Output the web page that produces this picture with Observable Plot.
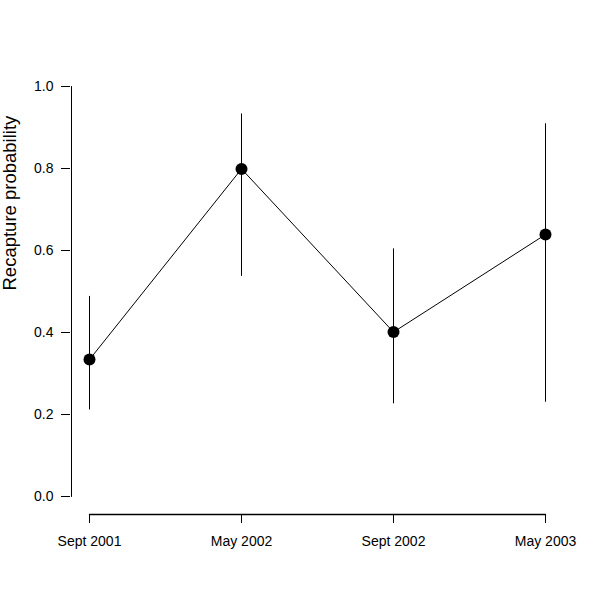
<!DOCTYPE html>
<html>
<head>
<meta charset="utf-8">
<script src="https://cdn.jsdelivr.net/npm/d3@7"></script>
<script src="https://cdn.jsdelivr.net/npm/@observablehq/plot@0.6"></script>
<style>
  html, body { margin: 0; padding: 0; background: white; }
</style>
</head>
<body>
<div id="chart"></div>
<script>
const periods = ["Sept 2001", "May 2002", "Sept 2002", "May 2003"];
const estimate = [0.334, 0.799, 0.401, 0.639];
const lower = [0.211, 0.537, 0.226, 0.230];
const upper = [0.488, 0.933, 0.604, 0.909];
const yTicks = [0, 0.2, 0.4, 0.6, 0.8, 1.0];
const yTitle = "Recapture probability";

const data = periods.map((p, i) => ({period: p, est: estimate[i], lo: lower[i], hi: upper[i]}));
const xAxisLine = [periods[0], periods[periods.length - 1]].map(p => ({p, v: yTicks[0]}));
const yAxisLine = [yTicks[0], yTicks[yTicks.length - 1]].map(v => ({p: periods[0], v}));

const chart = Plot.plot({
  width: 600,
  height: 600,
  marginLeft: 70,
  marginRight: 55,
  marginTop: 66,
  marginBottom: 86,
  style: {fontFamily: "'Liberation Sans', Arial, Helvetica, sans-serif", fontSize: "14px", color: "black", background: "white"},
  x: {type: "point", domain: periods, range: [88, 545], padding: 0},
  y: {domain: [0, 1], range: [496, 86]},
  marks: [
    Plot.axisX({tickSize: 9, tickPadding: 13, fontSize: 14, label: null, stroke: "black"}),
    Plot.axisY({ticks: yTicks, tickFormat: d3.format(".1f"), tickSize: 9, tickPadding: 8, fontSize: 14, label: null, stroke: "black"}),
    Plot.line(xAxisLine, {x: "p", y: "v", dy: 18, stroke: "black", strokeWidth: 1.3}),
    Plot.line(yAxisLine, {x: "p", y: "v", dx: -18, stroke: "black", strokeWidth: 1}),
    Plot.text([yTitle], {frameAnchor: "left", rotate: -90, dx: -60, fontSize: 18.5, fill: "black"}),
    Plot.ruleX(data, {x: "period", y1: "lo", y2: "hi", stroke: "black", strokeWidth: 1}),
    Plot.line(data, {x: "period", y: "est", stroke: "black", strokeWidth: 1}),
    Plot.dot(data, {x: "period", y: "est", r: 6, fill: "black", stroke: "none"})
  ]
});
document.getElementById("chart").appendChild(chart);
</script>
</body>
</html>
